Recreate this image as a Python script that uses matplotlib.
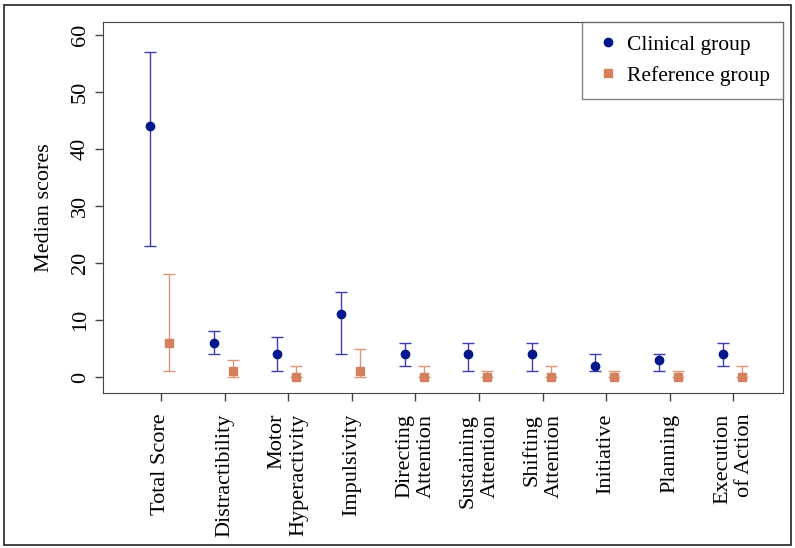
import matplotlib.pyplot as plt
from matplotlib.patches import Rectangle
import numpy as np

plt.rcParams['font.family'] = ['Liberation Serif', 'DejaVu Serif']

categories = ["Total Score", "Distractibility", "Motor\nHyperactivity", "Impulsivity",
              "Directing\nAttention", "Sustaining\nAttention", "Shifting\nAttention",
              "Initiative", "Planning", "Execution\nof Action"]
clin_med = [44, 6, 4, 11, 4, 4, 4, 2, 3, 4]
clin_lo = [23, 4, 1, 4, 2, 1, 1, 1, 1, 2]
clin_hi = [57, 8, 7, 15, 6, 6, 6, 4, 4, 6]
ref_med = [6, 1, 0, 1, 0, 0, 0, 0, 0, 0]
ref_lo = [1, 0, 0, 0, 0, 0, 0, 0, 0, 0]
ref_hi = [18, 3, 2, 5, 2, 1, 2, 1, 1, 2]
yticks = [0, 10, 20, 30, 40, 50, 60]

fig = plt.figure(figsize=(7.95, 5.48), dpi=100)
ax = fig.add_axes([0.1296, 0.2828, 0.8554, 0.6771])

x = np.arange(len(categories))
cm = np.array(clin_med)
rm = np.array(ref_med)
ax.errorbar(x - 0.17, cm, yerr=[cm - np.array(clin_lo), np.array(clin_hi) - cm],
            fmt='none', ecolor='#3c3cb4', elinewidth=1, capsize=4, capthick=1)
ax.plot(x - 0.17, cm, 'o', color='#00188c', markersize=6, label='Clinical group')
ax.errorbar(x + 0.13, rm, yerr=[rm - np.array(ref_lo), np.array(ref_hi) - rm],
            fmt='none', ecolor='#e0957a', elinewidth=1, capsize=4, capthick=1)
ax.plot(x + 0.13, rm, 's', color='#d4805e', markersize=5.5, label='Reference group')

ax.set_xlim(-0.91, 9.78)
ax.set_ylim(-2.8, 62.3)
ax.set_xticks(x)
ax.set_xticklabels(categories, rotation=90, fontsize=16, multialignment='right')
ax.set_yticks(yticks)
ax.set_yticklabels([str(v) for v in yticks], rotation=90, va='center', fontsize=16)
ax.tick_params(direction='out', length=6, width=1, color='#444444')
ax.tick_params(axis='x', pad=9)
ax.set_ylabel("Median scores", fontsize=16, labelpad=12)
for s in ax.spines.values():
    s.set_color('#444444')

leg = ax.legend(loc='upper right', fontsize=15.5, frameon=True, fancybox=False,
                borderaxespad=0, handletextpad=0.3, handlelength=1.2, borderpad=0.6)
leg.get_frame().set_edgecolor('#666666')
leg.get_frame().set_linewidth(1)

fig.patches.append(Rectangle((0.005, 0.006), 0.99, 0.985, transform=fig.transFigure,
                             fill=False, edgecolor='#222222', linewidth=1.2))

plt.savefig("out.png")
